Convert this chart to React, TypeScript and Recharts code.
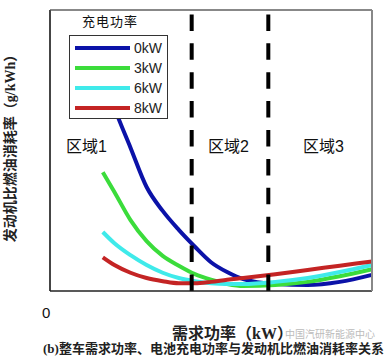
import { LineChart, Line, XAxis, YAxis, ReferenceLine, Legend } from "recharts";

const demandPower = [0.82, 1.0, 1.25, 1.5, 1.75, 2.0, 2.25, 2.5, 2.75, 3.0, 3.5, 4.0, 4.5, 5.0];
const bsfc0kW = [3.1, 2.61, 2.04, 1.48, 1.14, 0.87, 0.63, 0.41, 0.27, 0.17, 0.1, 0.085, 0.13, 0.23];
const bsfc3kW = [1.69, 1.41, 1.01, 0.71, 0.5, 0.36, 0.24, 0.16, 0.1, 0.07, 0.085, 0.13, 0.21, 0.31];
const bsfc6kW = [0.84, 0.68, 0.51, 0.37, 0.26, 0.185, 0.14, 0.11, 0.1, 0.1, 0.13, 0.185, 0.27, 0.37];
const bsfc8kW = [0.48, 0.37, 0.26, 0.185, 0.14, 0.11, 0.11, 0.13, 0.16, 0.185, 0.24, 0.3, 0.36, 0.42];

const series = [
  { key: "p0", name: "0kW", color: "#0b12a8" },
  { key: "p3", name: "3kW", color: "#3bdc3b" },
  { key: "p6", name: "6kW", color: "#3feaea" },
  { key: "p8", name: "8kW", color: "#c42424" },
];

const regionBounds = [2.2, 3.39];
const regionLabels = [
  { text: "区域1", x: 88 },
  { text: "区域2", x: 230 },
  { text: "区域3", x: 325 },
];
const xTicks = [0, 1, 2, 3, 4, 5];
const yTicks = [0, 1, 2, 3, 4];

const data = demandPower.map((x, i) => ({
  x,
  p0: bsfc0kW[i],
  p3: bsfc3kW[i],
  p6: bsfc6kW[i],
  p8: bsfc8kW[i],
}));

const cjkSans = '"Liberation Sans", Arial, "Noto Sans CJK SC", sans-serif';
const cjkSerif = '"Liberation Serif", "DejaVu Serif", "Noto Sans CJK SC", serif';

function LegendBox() {
  return (
    <div style={{ fontFamily: cjkSans, textAlign: "left" }}>
      <div style={{ fontSize: 13, letterSpacing: 1, marginLeft: 13, lineHeight: "16px", color: "#111" }}>
        充电功率
      </div>
      <div
        style={{
          marginTop: 5,
          width: 99,
          height: 84,
          boxSizing: "border-box",
          border: "1px solid #333",
          background: "#fff",
          paddingTop: 2,
        }}
      >
        {series.map((s) => (
          <div key={s.key} style={{ display: "flex", alignItems: "center", height: 20 }}>
            <div style={{ marginLeft: 5, width: 55, height: 4, background: s.color }} />
            <span style={{ marginLeft: 4, fontSize: 14, color: "#222", lineHeight: "20px" }}>{s.name}</span>
          </div>
        ))}
      </div>
    </div>
  );
}

const abs = (left: number, top: number): React.CSSProperties => ({
  position: "absolute",
  left,
  top,
  whiteSpace: "nowrap",
});

export default function App() {
  const frame = { stroke: "#222", strokeWidth: 1.2 };
  const frameLight = { stroke: "#888", strokeWidth: 2 };
  return (
    <div style={{ position: "absolute", left: 0, top: 0, width: 385, height: 356, background: "#fff", overflow: "hidden" }}>
      <LineChart width={385} height={356} data={data} margin={{ top: 9, right: 12, bottom: 64, left: 49 }}>
        <XAxis dataKey="x" type="number" domain={[0, 5]} ticks={xTicks} tick={false} height={1} tickSize={-4} axisLine={frame} tickLine={frame} />
        <XAxis xAxisId="t" orientation="top" type="number" domain={[0, 5]} ticks={xTicks} tick={false} height={1} tickSize={-4} axisLine={frameLight} tickLine={{ stroke: "#888", strokeWidth: 1 }} />
        <YAxis type="number" domain={[0, 4]} ticks={yTicks} tick={false} width={1} tickSize={-4} axisLine={frame} tickLine={frame} />
        <YAxis yAxisId="r" orientation="right" type="number" domain={[0, 4]} ticks={yTicks} tick={false} width={1} tickSize={-4} axisLine={frameLight} tickLine={{ stroke: "#888", strokeWidth: 1 }} />
        {/* left/bottom frame, in case the axis lines are dropped */}
        <ReferenceLine x={0} stroke="#222" strokeWidth={1.2} />
        <ReferenceLine y={0} stroke="#222" strokeWidth={1.2} />
        {series.map((s) => (
          <Line
            key={s.key}
            dataKey={s.key}
            name={s.name}
            type="monotone"
            stroke={s.color}
            strokeWidth={4}
            dot={false}
            isAnimationActive={false}
          />
        ))}
        {regionBounds.map((b) => (
          <ReferenceLine
            key={b}
            segment={[{ x: b, y: 0 }, { x: b, y: 4 }]}
            stroke="#000"
            strokeWidth={4}
            strokeDasharray="16.5 12.4"
          />
        ))}
        <Legend
          layout="vertical"
          align="center"
          verticalAlign="middle"
          content={() => <LegendBox />}
          wrapperStyle={{ position: "absolute", left: 69, top: 14, width: "auto", height: "auto" }}
        />
      </LineChart>

      {regionLabels.map((r) => (
        <div key={r.text} style={{ ...abs(r.x - 22, 137), fontFamily: cjkSans, fontSize: 16, lineHeight: "20px", color: "#111" }}>
          {r.text}
        </div>
      ))}

      <div
        style={{
          ...abs(11, 145),
          transform: "translate(-50%, -50%) rotate(-90deg)",
          fontFamily: cjkSerif,
          fontSize: 14,
          lineHeight: "16px",
          fontWeight: "bold",
          color: "#222",
        }}
      >
        发动机比燃油消耗率（g/kWh）
      </div>
      <div style={{ ...abs(42, 304), fontFamily: cjkSans, fontSize: 15, color: "#111" }}>0</div>
      <div style={{ ...abs(172, 320), fontFamily: cjkSerif, fontSize: 16, fontWeight: "bold", color: "#222" }}>
        需求功率（kW）
      </div>
      <div style={{ ...abs(285, 326), fontFamily: cjkSans, fontSize: 10, color: "#bbbbbb" }}>中国汽研新能源中心</div>
      <div style={{ ...abs(43, 338), fontFamily: cjkSerif, fontSize: 13, fontWeight: "bold", color: "#222" }}>
        (b)整车需求功率、电池充电功率与发动机比燃油消耗率关系
      </div>
    </div>
  );
}
